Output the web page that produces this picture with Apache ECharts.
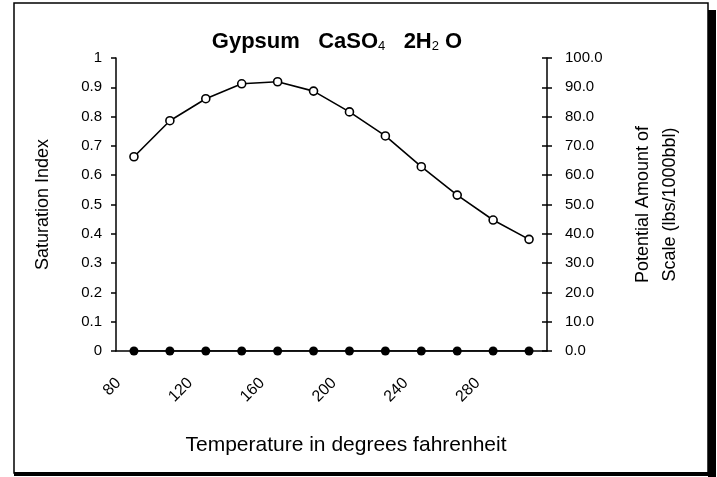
<!DOCTYPE html>
<html>
<head>
<meta charset="utf-8">
<script src="https://cdn.jsdelivr.net/npm/echarts@6/dist/echarts.min.js"></script>
<style>
  html, body { margin: 0; padding: 0; background: #fff; }
  #chart { width: 717px; height: 477px; }
</style>
</head>
<body>
<div id="chart"></div>
<script>
// Temperature categories (deg F) and the two plotted series
const temperatures = ['80', '100', '120', '140', '160', '180', '200', '220', '240', '260', '280', '300'];
const saturationIndex = [0.663, 0.786, 0.861, 0.912, 0.919, 0.887, 0.816, 0.734, 0.629, 0.532, 0.447, 0.381];
const scaleAmount = [0, 0, 0, 0, 0, 0, 0, 0, 0, 0, 0, 0];

const FONT = '"Liberation Sans", Arial, sans-serif';
const INK = '#000';

const chart = echarts.init(document.getElementById('chart'), null, { renderer: 'canvas' });

chart.setOption({
  backgroundColor: '#fff',
  animation: false,
  title: {
    text: '{a|Gypsum   CaSO}{s|4}{a|   2H}{s|2}{a| O}',
    left: 332,
    top: 24,
    textAlign: 'center',
    textStyle: {
      rich: {
        a: { fontFamily: FONT, fontSize: 22, fontWeight: 'bold', color: INK, verticalAlign: 'bottom', lineHeight: 24 },
        s: { fontFamily: FONT, fontSize: 13, fontWeight: 'normal', color: INK, verticalAlign: 'bottom', lineHeight: 20 }
      }
    }
  },
  grid: { left: 116, right: 170, top: 58, bottom: 126, containLabel: false },
  xAxis: {
    type: 'category',
    data: temperatures,
    boundaryGap: true,
    axisLine: { lineStyle: { color: INK, width: 1.5 } },
    axisTick: { interval: 0, length: 5, lineStyle: { color: INK, width: 1.5 } },
    axisLabel: {
      interval: 1,
      rotate: 45,
      margin: 14,
      padding: [0, 22, 0, 0],
      fontFamily: FONT, fontSize: 16, color: INK
    },
    splitLine: { show: false }
  },
  yAxis: [
    {
      type: 'value', position: 'left', min: 0, max: 1, interval: 0.1,
      name: 'Saturation Index', nameLocation: 'middle', nameGap: 64, nameRotate: 90,
      nameTextStyle: { fontFamily: FONT, fontSize: 18, color: INK },
      axisLine: { show: true, lineStyle: { color: INK, width: 1.5 } },
      axisTick: { show: true, length: 5, lineStyle: { color: INK, width: 1.5 } },
      axisLabel: { margin: 14, fontFamily: FONT, fontSize: 15, color: INK },
      splitLine: { show: false }
    },
    {
      type: 'value', position: 'right', min: 0, max: 100, interval: 10,
      name: 'Potential Amount of\nScale (lbs/1000bbl)', nameLocation: 'middle', nameGap: 83, nameRotate: 90,
      nameTextStyle: { fontFamily: FONT, fontSize: 18, color: INK, lineHeight: 27 },
      axisLine: { show: true, lineStyle: { color: INK, width: 1.5 } },
      axisTick: { show: true, length: 5, lineStyle: { color: INK, width: 1.5 } },
      axisLabel: { margin: 18, fontFamily: FONT, fontSize: 15, color: INK, formatter: v => v.toFixed(1) },
      splitLine: { show: false }
    },
    {
      // inner half of the cross-shaped ticks on the right axis
      type: 'value', position: 'right', min: 0, max: 100, interval: 10,
      axisLine: { show: false },
      axisTick: { show: true, inside: true, length: 5, lineStyle: { color: INK, width: 1.5 } },
      axisLabel: { show: false },
      splitLine: { show: false }
    }
  ],
  series: [
    {
      name: 'Saturation Index',
      type: 'line',
      yAxisIndex: 0,
      data: saturationIndex,
      symbol: 'circle',
      symbolSize: 8,
      lineStyle: { color: INK, width: 1.6 },
      itemStyle: { color: '#fff', borderColor: INK, borderWidth: 1.6 },
      z: 3
    },
    {
      name: 'Potential Amount of Scale',
      type: 'line',
      yAxisIndex: 1,
      data: scaleAmount,
      symbol: 'circle',
      symbolSize: 9,
      lineStyle: { color: INK, width: 1.6 },
      itemStyle: { color: INK, borderColor: INK, borderWidth: 0 },
      z: 4
    }
  ],
  graphic: [
    {
      type: 'text',
      style: {
        x: 346, y: 445,
        text: 'Temperature in degrees fahrenheit',
        font: '21px "Liberation Sans", Arial, sans-serif',
        fill: INK,
        textAlign: 'center',
        textVerticalAlign: 'middle'
      }
    },
    // chart frame with its offset shadow
    { type: 'rect', shape: { x: 14, y: 3, width: 694, height: 470 }, style: { fill: 'none', stroke: INK, lineWidth: 1.5 } },
    { type: 'rect', shape: { x: 708, y: 10, width: 8, height: 467 }, style: { fill: INK } },
    { type: 'rect', shape: { x: 14, y: 472, width: 702, height: 4 }, style: { fill: INK } }
  ]
});
</script>
</body>
</html>
